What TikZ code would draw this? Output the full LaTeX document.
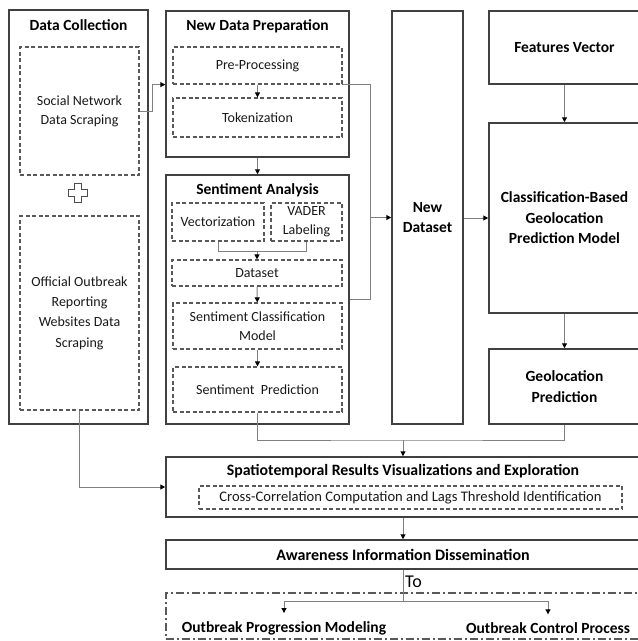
\documentclass[tikz,border=0pt]{standalone}
\usepackage{fontspec}
\setmainfont{Carlito}
\usetikzlibrary{arrows.meta}

\begin{document}
\begin{tikzpicture}[x=1pt,y=-1pt,
  frame/.style={draw=black!75, line width=1.5pt, inner sep=0pt},
  dbox/.style={draw=black!65, line width=1.2pt, dash pattern=on 4pt off 2.5pt, inner sep=0pt},
  dashdotbox/.style={draw=black!65, line width=1.2pt, dash pattern=on 8pt off 3pt on 2pt off 3pt, inner sep=0pt},
  head/.style={font=\fontsize{15.5}{20.5}\selectfont\bfseries, text=black, align=center},
  body/.style={font=\fontsize{14}{19}\selectfont, text=black!90, align=center},
  link/.style={draw=black!50, line width=1pt},
  arr/.style={link, -{Triangle[length=5pt,width=5pt,color=black]}},
]
\useasboundingbox (0,0) rectangle (638,641);

% --- Data collection column ---
\node[frame, minimum width=139pt, minimum height=414pt] (dc) at (78.5,217) {};
\node[head] (dct) at (78.5,25) {Data Collection};
\node[dbox, body, minimum width=119pt, minimum height=128pt] (sn) at (79.5,111) {Social Network\\Data Scraping};
\draw[black!70, line width=1pt] (74.5,183.5) -- (81.5,183.5) -- (81.5,189.5) -- (87.5,189.5)
  -- (87.5,196.5) -- (81.5,196.5) -- (81.5,202.5) -- (74.5,202.5) -- (74.5,196.5)
  -- (68.5,196.5) -- (68.5,189.5) -- (74.5,189.5) -- cycle;
\node[dbox, body, font=\fontsize{14}{20.3}\selectfont, minimum width=119pt, minimum height=194pt] (ow) at (79.5,313)
  {Official Outbreak\\Reporting\\Websites Data\\Scraping};

% --- New data preparation ---
\node[frame, minimum width=183pt, minimum height=146pt] (ndp) at (257.5,84) {};
\node[head] (ndpt) at (257.5,26) {New Data Preparation};
\node[dbox, body, minimum width=169pt, minimum height=37pt] (pp) at (257.5,65.5) {Pre-Processing};
\node[dbox, body, minimum width=169pt, minimum height=39pt] (tok) at (257.5,117.5) {Tokenization};

% --- Sentiment analysis ---
\node[frame, minimum width=183pt, minimum height=249pt] (sa) at (257.5,299.5) {};
\node[head] (sat) at (257.5,190) {Sentiment Analysis};
\node[dbox, body, minimum width=92pt, minimum height=38pt] (vec) at (218,222) {Vectorization};
\node[dbox, body, minimum width=71pt, minimum height=38pt] (vader) at (306.5,222) {VADER\\Labeling};
\node[dbox, body, minimum width=170pt, minimum height=26pt] (ds) at (257,273) {Dataset};
\node[dbox, body, minimum width=169pt, minimum height=46pt] (scm) at (257.5,326) {Sentiment Classification\\Model};
\node[dbox, body, minimum width=169pt, minimum height=45pt] (sp) at (257.5,389.5) {Sentiment\ \ Prediction};

% --- Dataset and geolocation column ---
\node[frame, head, minimum width=71pt, minimum height=413pt] (nd) at (427.5,217.5) {New\\Dataset};
\node[frame, head, minimum width=151pt, minimum height=73pt] (fv) at (564.5,47.5) {Features Vector};
\node[frame, head, minimum width=151pt, minimum height=190pt] (cbg) at (564.5,218)
  {Classification-Based\\Geolocation\\Prediction Model};
\node[frame, head, minimum width=151pt, minimum height=75pt] (gp) at (564.5,386.5) {Geolocation\\Prediction};

% --- Results and dissemination ---
\node[frame, minimum width=474pt, minimum height=60pt] (svx) at (403,487) {};
\node[head, font=\fontsize{15.8}{20}\selectfont\bfseries] (svxt) at (403,471) {Spatiotemporal Results Visualizations and Exploration};
\node[dbox, body, font=\fontsize{14.6}{18}\selectfont, minimum width=423pt, minimum height=23pt] (cc) at (410.5,497.5)
  {Cross-Correlation Computation and Lags Threshold Identification};
\node[frame, head, font=\fontsize{16}{20}\selectfont\bfseries, minimum width=474pt, minimum height=29pt] (aid) at (403,554.5) {Awareness Information Dissemination};
\node[dashdotbox, minimum width=474pt, minimum height=46pt] (outb) at (403,616) {};
\node[head, inner ysep=8pt] (opm) at (284,628) {Outbreak Progression Modeling};
\node[head, inner ysep=8pt] (ocp) at (548,628) {Outbreak Control Process};
\node[font=\fontsize{18}{20}\selectfont, text=black, anchor=west, inner sep=0pt] (tolbl) at (405,582) {To};

% --- Connectors ---
\draw[arr] (sn.east) -- ++(13,0) |- (ndp.west |- pp.south);
\draw[arr] (pp) -- (tok);
\draw[arr] (ndp) -- (sa);
\path (vec.south) ++(0,10) coordinate (vjoin);
\draw[link] (vec.south) -- (vjoin) -| (vader.south);
\draw[arr] (vjoin -| ds.north) -- (ds.north);
\draw[arr] (ds) -- (scm);
\draw[arr] (scm) -- (sp);

\coordinate (bus) at (370,0);
\draw[link] (pp.south east) -| (bus |- nd.west);
\draw[link] (sa.east) -| (bus |- nd.west);
\draw[arr] (bus |- nd.west) -- (nd.west);
\draw[arr] (nd.east |- cbg.west) -- (cbg.west);
\draw[arr] (fv) -- (cbg);
\draw[arr] (cbg) -- (gp);

\coordinate (mrg) at (403,440);
\draw[link] (sp.south) |- (mrg) -| (gp.south);
\draw[arr] (mrg) -- (svx.north);
\draw[arr] (ow.south) |- (svx.west);
\draw[arr] (svx) -- (aid);

\coordinate (split) at (403,601);
\draw[link] (aid.south) -- (split);
\draw[link] (opm.north |- split) -- (ocp.north |- split);
\draw[arr] (opm.north |- split) -- (opm.north);
\draw[arr] (ocp.north |- split) -- (ocp.north);
\end{tikzpicture}
\end{document}
